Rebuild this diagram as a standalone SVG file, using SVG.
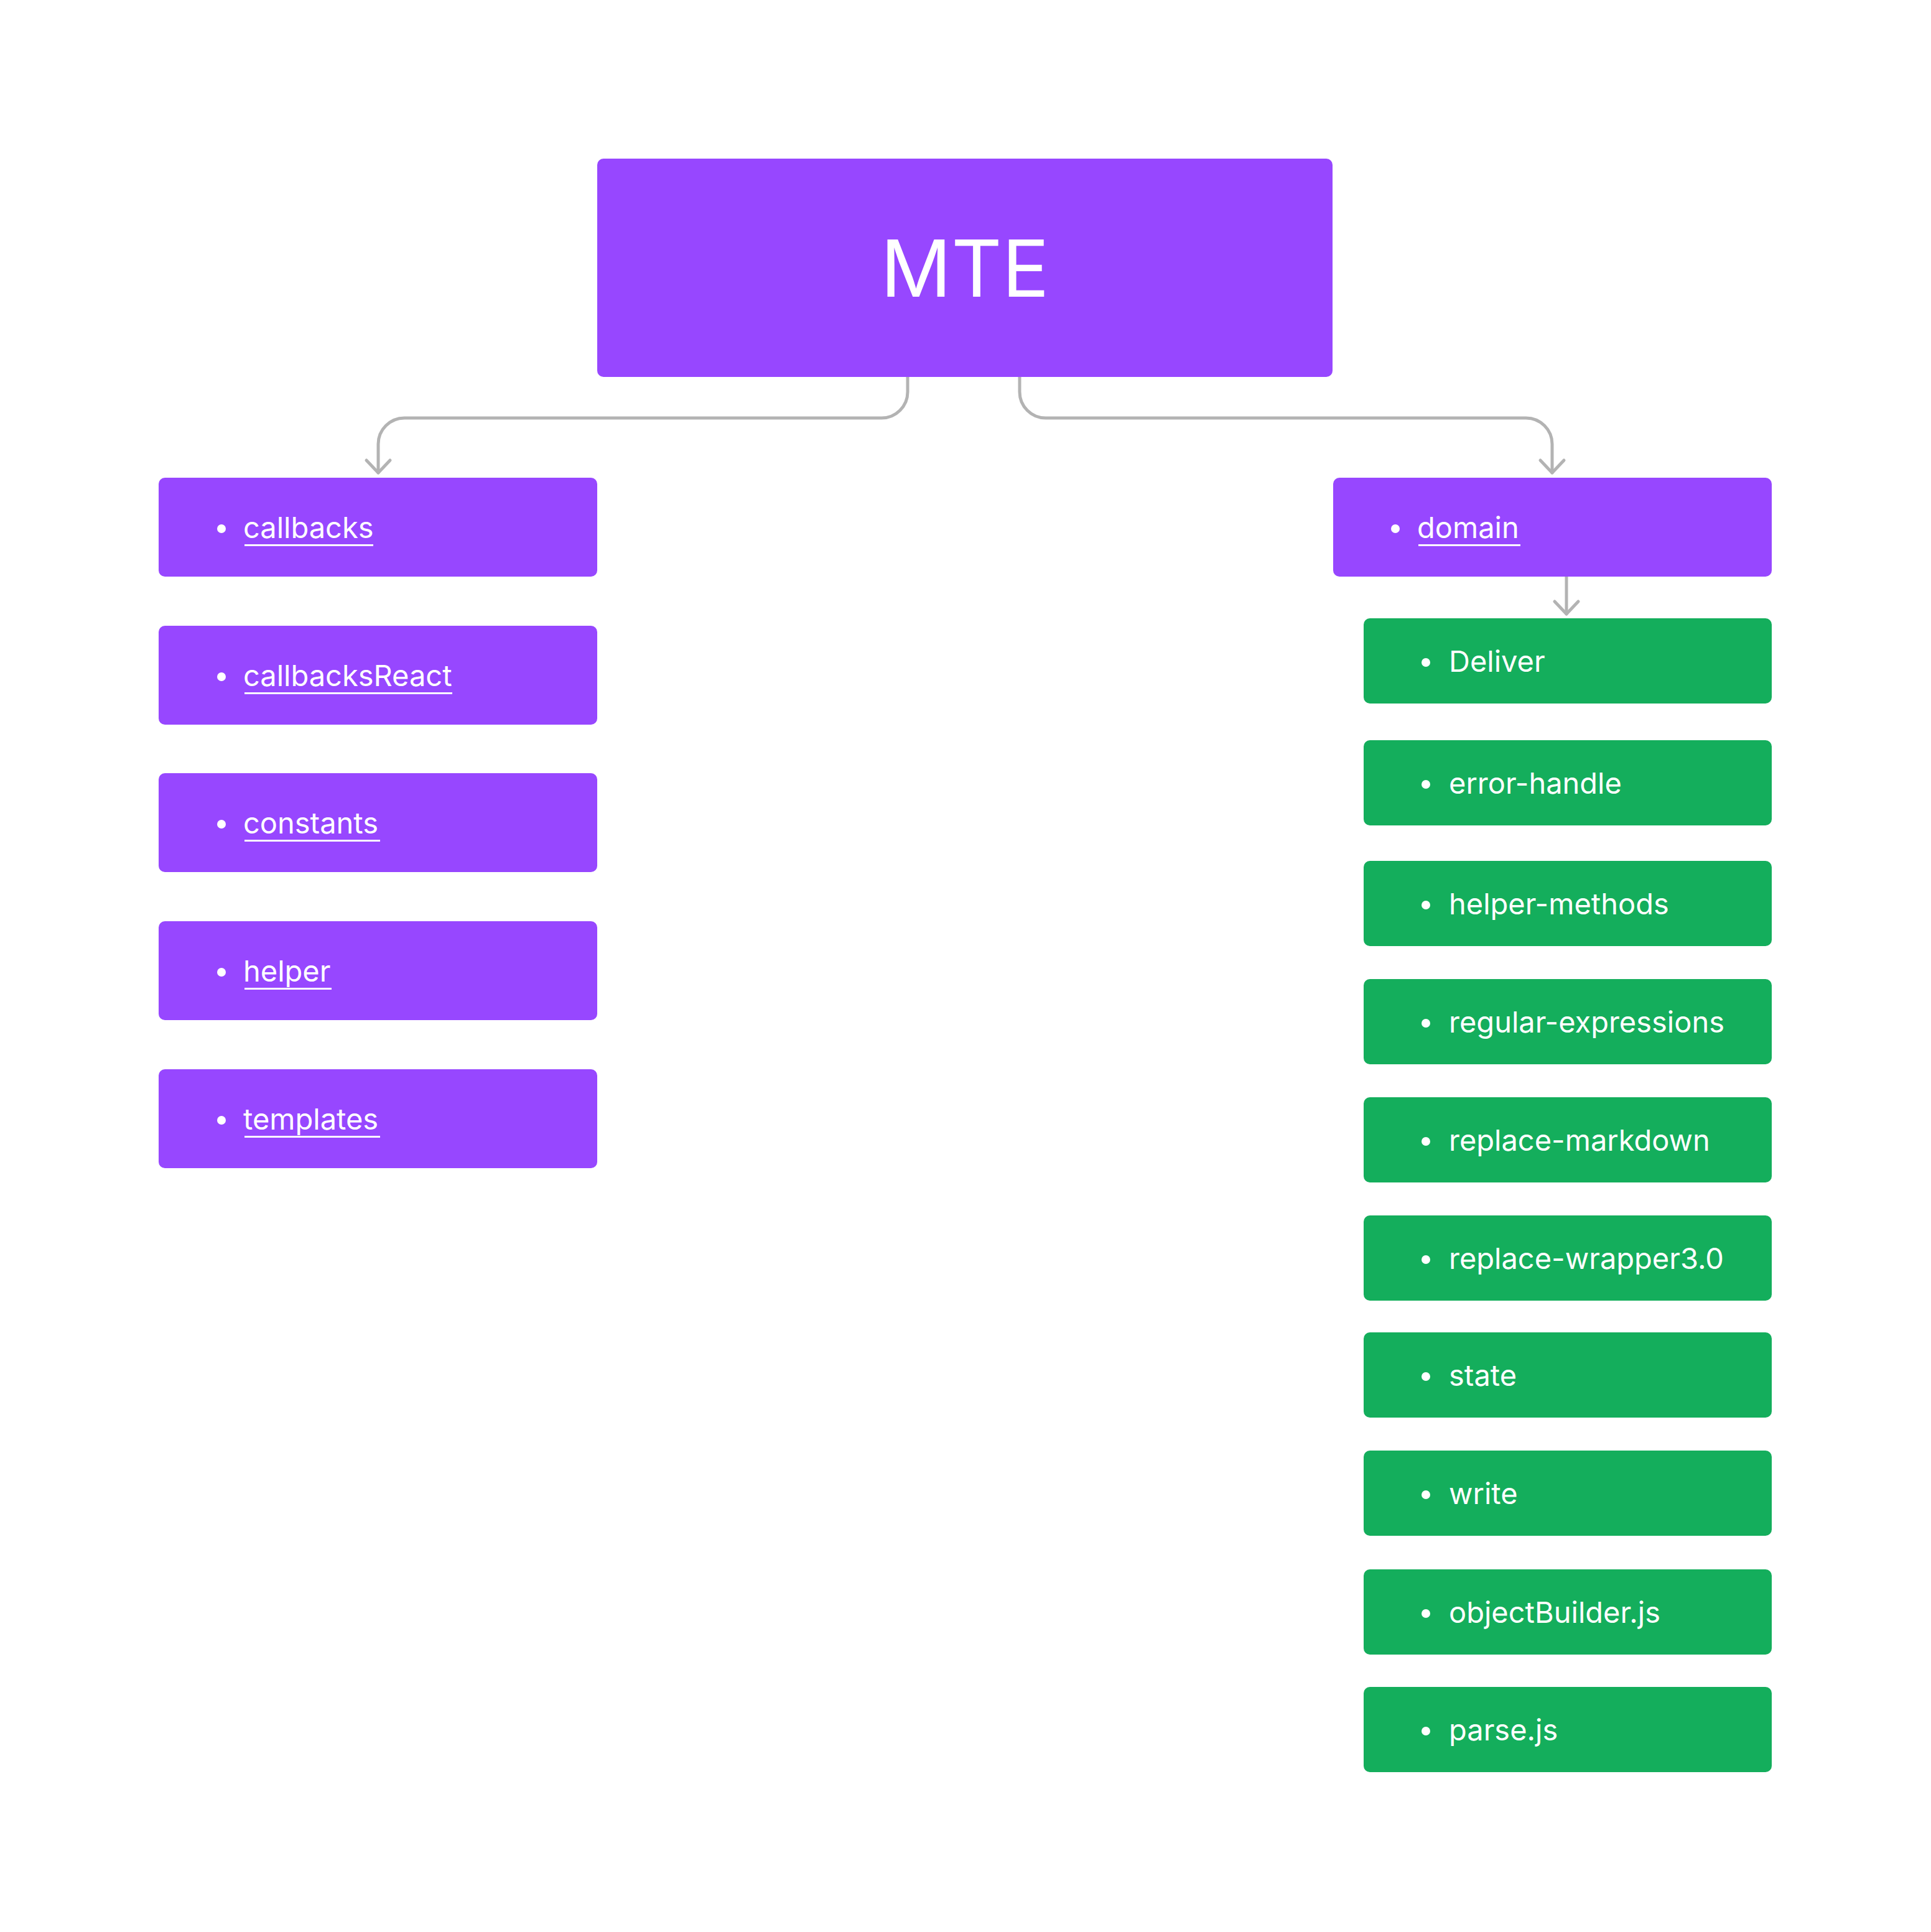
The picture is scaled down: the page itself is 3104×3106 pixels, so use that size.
<svg xmlns="http://www.w3.org/2000/svg" width="3104" height="3106" viewBox="0 0 3104 3106">
<defs>
<style>
.p{fill:#9747FF}
.g{fill:#14AE5C}
.t{font-family:Inter,"Noto Sans","Liberation Sans",sans-serif;font-size:47px;fill:#FFFFFF}
.b{fill:#FFFFFF}
.ul{fill:#FFFFFF}
.c{fill:none;stroke:#B3B3B3;stroke-width:5;stroke-linecap:round;stroke-linejoin:round}
</style>
<marker id="ah" markerUnits="userSpaceOnUse" viewBox="-30 -30 40 60" markerWidth="40" markerHeight="60" refX="0" refY="0" orient="auto">
<path d="M-20 -19 L0 0 L-20 19" fill="none" stroke="#B3B3B3" stroke-width="5" stroke-linecap="round" stroke-linejoin="round"/>
</marker>
</defs>
<rect width="3104" height="3106" fill="#FFFFFF"/>
<g id="connectors">
<path class="c" d="M1459 606 V630 A42 42 0 0 1 1417 672 H650 A42 42 0 0 0 608 714 V760" marker-end="url(#ah)"/>
<path class="c" d="M1639 606 V630 A42 42 0 0 0 1681 672 H2453 A42 42 0 0 1 2495 714 V760" marker-end="url(#ah)"/>
<path class="c" d="M2518 927 V987" marker-end="url(#ah)"/>
</g>
<g id="mte">
<rect class="p" x="960" y="255" width="1182" height="351" rx="10"/>
<text x="1551" y="477" text-anchor="middle" style="font-family:Inter,'Noto Sans','Liberation Sans',sans-serif;font-size:126px;fill:#FFFFFF">MTE</text>
</g>
<g id="callbacks">
<rect class="p" x="255" y="768" width="705" height="159" rx="10"/>
<circle class="b" cx="356" cy="850" r="7"/>
<text class="t" x="391" y="865">callbacks</text>
<rect class="ul" x="393" y="875" width="207" height="3"/>
</g>
<g id="callbacksReact">
<rect class="p" x="255" y="1006" width="705" height="159" rx="10"/>
<circle class="b" cx="356" cy="1088" r="7"/>
<text class="t" x="391" y="1103">callbacksReact</text>
<rect class="ul" x="393" y="1113" width="334" height="3"/>
</g>
<g id="constants">
<rect class="p" x="255" y="1243" width="705" height="159" rx="10"/>
<circle class="b" cx="356" cy="1325" r="7"/>
<text class="t" x="391" y="1340">constants</text>
<rect class="ul" x="393" y="1350" width="218" height="3"/>
</g>
<g id="helper">
<rect class="p" x="255" y="1481" width="705" height="159" rx="10"/>
<circle class="b" cx="356" cy="1563" r="7"/>
<text class="t" x="391" y="1578">helper</text>
<rect class="ul" x="393" y="1588" width="140" height="3"/>
</g>
<g id="templates">
<rect class="p" x="255" y="1719" width="705" height="159" rx="10"/>
<circle class="b" cx="356" cy="1801" r="7"/>
<text class="t" x="391" y="1816">templates</text>
<rect class="ul" x="393" y="1826" width="218" height="3"/>
</g>
<g id="domain">
<rect class="p" x="2143" y="768" width="705" height="159" rx="10"/>
<circle class="b" cx="2243" cy="850" r="7"/>
<text class="t" x="2278" y="865">domain</text>
<rect class="ul" x="2280" y="875" width="164" height="3"/>
</g>
<g id="deliver">
<rect class="g" x="2192" y="994" width="656" height="137" rx="10"/>
<circle class="b" cx="2292" cy="1065" r="7"/>
<text class="t" x="2329" y="1080">Deliver</text>
</g>
<g id="error-handle">
<rect class="g" x="2192" y="1190" width="656" height="137" rx="10"/>
<circle class="b" cx="2292" cy="1261" r="7"/>
<text class="t" x="2329" y="1276">error-handle</text>
</g>
<g id="helper-methods">
<rect class="g" x="2192" y="1384" width="656" height="137" rx="10"/>
<circle class="b" cx="2292" cy="1455" r="7"/>
<text class="t" x="2329" y="1470">helper-methods</text>
</g>
<g id="regular-expressions">
<rect class="g" x="2192" y="1574" width="656" height="137" rx="10"/>
<circle class="b" cx="2292" cy="1645" r="7"/>
<text class="t" x="2329" y="1660">regular-expressions</text>
</g>
<g id="replace-markdown">
<rect class="g" x="2192" y="1764" width="656" height="137" rx="10"/>
<circle class="b" cx="2292" cy="1835" r="7"/>
<text class="t" x="2329" y="1850">replace-markdown</text>
</g>
<g id="replace-wrapper">
<rect class="g" x="2192" y="1954" width="656" height="137" rx="10"/>
<circle class="b" cx="2292" cy="2025" r="7"/>
<text class="t" x="2329" y="2040">replace-wrapper3.0</text>
</g>
<g id="state">
<rect class="g" x="2192" y="2142" width="656" height="137" rx="10"/>
<circle class="b" cx="2292" cy="2213" r="7"/>
<text class="t" x="2329" y="2228">state</text>
</g>
<g id="write">
<rect class="g" x="2192" y="2332" width="656" height="137" rx="10"/>
<circle class="b" cx="2292" cy="2403" r="7"/>
<text class="t" x="2329" y="2418">write</text>
</g>
<g id="objectBuilder">
<rect class="g" x="2192" y="2523" width="656" height="137" rx="10"/>
<circle class="b" cx="2292" cy="2594" r="7"/>
<text class="t" x="2329" y="2609">objectBuilder.js</text>
</g>
<g id="parse">
<rect class="g" x="2192" y="2712" width="656" height="137" rx="10"/>
<circle class="b" cx="2292" cy="2783" r="7"/>
<text class="t" x="2329" y="2798">parse.js</text>
</g>
</svg>
